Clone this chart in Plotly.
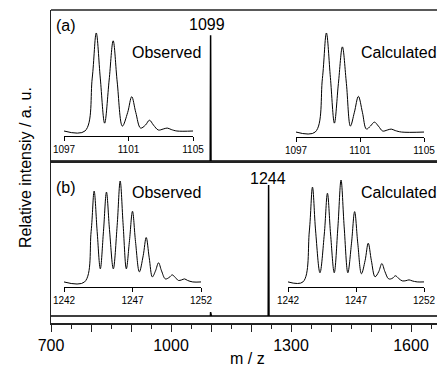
import plotly.graph_objects as go

# ---------------- data ----------------
# main spectra (m/z vs relative intensity)
mz_a = [700, 1096, 1098.0, 1099.0, 1100.0, 1102, 1665]
int_a = [0, 0, 0, 1.0, 0, 0, 0]
mz_b = [700, 1097, 1098.5, 1099.0, 1099.5, 1101, 1241, 1243.0, 1244.0, 1245.0, 1247, 1665]
int_b = [0, 0, 0, 0.03, 0, 0, 0, 0, 1.0, 0, 0, 0]

# isotope pattern insets (a)
obs_a_x = [1097, 1098.3, 1098.75, 1099.0, 1099.25, 1099.52, 1099.8, 1100.05, 1100.3, 1100.62, 1100.95,
           1101.2, 1101.45, 1101.75, 1102.05, 1102.3, 1102.55, 1102.85, 1103.15, 1103.4, 1103.65, 1104.0, 1105]
obs_a_y = [0, 0, 0.54, 1.0, 0.54, 0.08, 0.52, 0.92, 0.5, 0.05, 0.19,
           0.35, 0.19, 0.03, 0.06, 0.11, 0.06, 0.01, 0.02, 0.03, 0.015, 0, 0]
calc_a_x = [1097, 1098.2, 1098.65, 1098.9, 1099.15, 1099.4, 1099.65, 1099.9, 1100.15, 1100.4, 1100.65,
            1100.9, 1101.15, 1101.4, 1101.65, 1101.9, 1102.15, 1102.42, 1102.7, 1102.95, 1103.2, 1103.6, 1105]
calc_a_y = [0, 0, 0.54, 1.0, 0.55, 0.09, 0.49, 0.86, 0.49, 0.06, 0.2,
            0.36, 0.2, 0.03, 0.06, 0.10, 0.06, 0.01, 0.02, 0.03, 0.015, 0, 0]
ticks_a = [1097, 1101, 1105]

# isotope pattern insets (b)
obs_b_x = [1242, 1243.5, 1243.98, 1244.2, 1244.42, 1244.65, 1244.88, 1245.1, 1245.32, 1245.6, 1245.88,
           1246.1, 1246.32, 1246.55, 1246.78, 1247.0, 1247.22, 1247.5, 1247.78, 1248.0, 1248.22, 1248.45,
           1248.68, 1248.9, 1249.12, 1249.4, 1249.68, 1249.9, 1250.12, 1250.35, 1250.58, 1250.8, 1251.02,
           1251.4, 1252]
obs_b_y = [0, 0, 0.5, 0.90, 0.5, 0.13, 0.5, 0.89, 0.52, 0.13, 0.56,
           1.0, 0.56, 0.13, 0.41, 0.70, 0.4, 0.10, 0.26, 0.44, 0.24, 0.05,
           0.11, 0.19, 0.11, 0.03, 0.045, 0.07, 0.045, 0.015, 0.02, 0.03, 0.015,
           0, 0]
calc_b_x = [1242, 1243.1, 1243.57, 1243.8, 1244.03, 1244.35, 1244.67, 1244.9, 1245.13, 1245.4, 1245.67,
            1245.9, 1246.13, 1246.4, 1246.67, 1246.9, 1247.13, 1247.4, 1247.67, 1247.9, 1248.13, 1248.4,
            1248.67, 1248.9, 1249.13, 1249.4, 1249.67, 1249.9, 1250.13, 1250.4, 1250.67, 1250.9, 1251.13,
            1251.5, 1252]
calc_b_y = [0, 0, 0.5, 0.93, 0.5, 0.09, 0.47, 0.87, 0.47, 0.09, 0.54,
            1.0, 0.54, 0.09, 0.38, 0.69, 0.38, 0.08, 0.21, 0.38, 0.21, 0.05,
            0.1, 0.18, 0.1, 0.03, 0.035, 0.06, 0.035, 0.01, 0.012, 0.02, 0.01,
            0, 0]
ticks_b = [1242, 1247, 1252]

main_tickvals = [700, 800, 900, 1000, 1100, 1200, 1300, 1400, 1500, 1600]
main_ticktext = ["700", "", "", "1000", "", "", "1300", "", "", "1600"]

# ---------------- figure ----------------
FONT = "Liberation Sans, Arial, sans-serif"
fig = go.Figure()

line_main = dict(color="black", width=1.5)
line_inset = dict(color="black", width=1, shape="spline", smoothing=1.0)

fig.add_trace(go.Scatter(x=mz_b, y=int_b, mode="lines", line=line_main, xaxis="x", yaxis="y"))
fig.add_trace(go.Scatter(x=mz_a, y=int_a, mode="lines", line=line_main, xaxis="x2", yaxis="y2"))
fig.add_trace(go.Scatter(x=obs_a_x, y=obs_a_y, mode="lines", line=line_inset, xaxis="x3", yaxis="y3"))
fig.add_trace(go.Scatter(x=calc_a_x, y=calc_a_y, mode="lines", line=line_inset, xaxis="x4", yaxis="y4"))
fig.add_trace(go.Scatter(x=obs_b_x, y=obs_b_y, mode="lines", line=line_inset, xaxis="x5", yaxis="y5"))
fig.add_trace(go.Scatter(x=calc_b_x, y=calc_b_y, mode="lines", line=line_inset, xaxis="x6", yaxis="y6"))

W, H = 437, 370
L, R, T, B = 51, 0, 10, 47
pw, ph = W - L - R, H - T - B
X0, X1 = 700, 1665
YA = [0, 1.2]                 # panel (a) y range
YB = [-7 / 131, 155 / 131]    # panel (b) y range
SPLIT_PX = 161


def px_x(p):
    return (p - L) / pw


def px_y(p):
    return (H - B - p) / ph


def dx(p):  # pixel -> main x data
    return X0 + (p - L) / pw * (X1 - X0)


def dya(p):  # pixel -> panel (a) y data
    return YA[0] + (SPLIT_PX - p) / (SPLIT_PX - T) * (YA[1] - YA[0])


def dyb(p):  # pixel -> panel (b) y data
    return YB[0] + (H - B - p) / (H - B - SPLIT_PX) * (YB[1] - YB[0])


split = px_y(SPLIT_PX)
axis_col = "#222"

inset_x_common = dict(showline=True, linecolor="black", linewidth=1, ticks="outside", ticklen=4,
                      tickwidth=1, tickcolor="black", showgrid=False, zeroline=False, automargin=False,
                      tickfont=dict(size=10, family=FONT, color="black"))
inset_y_common = dict(visible=False, showgrid=False, zeroline=False, automargin=False)

fig.update_layout(
    width=W, height=H,
    margin=dict(l=L, r=R, t=T, b=B, autoexpand=False),
    plot_bgcolor="white", paper_bgcolor="white",
    showlegend=False,
    hovermode=False,
    font=dict(family=FONT, color="black"),
    xaxis=dict(domain=[0, 1], range=[X0, X1], anchor="y", automargin=False,
               showline=True, linecolor=axis_col, linewidth=1.5,
               ticks="outside", ticklen=7, tickwidth=1, tickcolor=axis_col,
               tickvals=main_tickvals, ticktext=main_ticktext,
               minor=dict(dtick=50, tick0=700, ticks="outside", ticklen=4, tickcolor=axis_col),
               tickfont=dict(size=16, family=FONT, color="black"),
               showgrid=False, zeroline=False),
    yaxis=dict(domain=[0, split], range=YB, showline=True, linecolor=axis_col, automargin=False,
               linewidth=1.5, showticklabels=False, ticks="", showgrid=False, zeroline=False),
    xaxis2=dict(domain=[0, 1], range=[X0, X1], anchor="y2", matches="x", automargin=False,
                showline=True, linecolor=axis_col, linewidth=1.5, showticklabels=False,
                ticks="", showgrid=False, zeroline=False),
    yaxis2=dict(domain=[split, 1], range=YA, showline=True, linecolor=axis_col, automargin=False,
                linewidth=1.5, showticklabels=False, ticks="", showgrid=False, zeroline=False),
    xaxis3=dict(domain=[px_x(64), px_x(193)], range=[1097, 1105], anchor="y3", tickvals=ticks_a, **inset_x_common),
    yaxis3=dict(domain=[px_y(136), px_y(32)], range=[-0.051, 1.01], anchor="x3", **inset_y_common),
    xaxis4=dict(domain=[px_x(296), px_x(424)], range=[1097, 1105], anchor="y4", tickvals=ticks_a, **inset_x_common),
    yaxis4=dict(domain=[px_y(137), px_y(32)], range=[-0.05, 1.01], anchor="x4", **inset_y_common),
    xaxis5=dict(domain=[px_x(64), px_x(201)], range=[1242, 1252], anchor="y5", tickvals=ticks_b, **inset_x_common),
    yaxis5=dict(domain=[px_y(287), px_y(180)], range=[-0.05, 1.01], anchor="x5", **inset_y_common),
    xaxis6=dict(domain=[px_x(288), px_x(424)], range=[1242, 1252], anchor="y6", tickvals=ticks_b, **inset_x_common),
    yaxis6=dict(domain=[px_y(287), px_y(179)], range=[-0.05, 1.01], anchor="x6", **inset_y_common),
)

# top frame line
fig.add_shape(type="line", xref="paper", yref="paper", x0=0, x1=1, y0=1, y1=1,
              line=dict(color=axis_col, width=1.5))

ann = []


def txt(text, x, y, size, xanchor="center", xref="x2", yref="y2", **kw):
    ann.append(dict(text=text, x=x, y=y, xref=xref, yref=yref, showarrow=False,
                    xanchor=xanchor, yanchor="middle", font=dict(size=size, family=FONT, color="black"), **kw))


# panel (a) labels (data coords of panel a)
txt("(a)", dx(66), dya(25), 16)
txt("Observed", dx(166), dya(52), 16)
txt("Calculated", dx(359), dya(52), 16, xanchor="left")
txt("1099", dx(207), dya(24), 16)
# panel (b) labels (data coords of panel b)
txt("(b)", dx(66), dyb(187), 16, xref="x", yref="y")
txt("Observed", dx(166), dyb(192), 16, xref="x", yref="y")
txt("Calculated", dx(359), dyb(192), 16, xanchor="left", xref="x", yref="y")
txt("1244", dx(268), dyb(178), 16, xref="x", yref="y")
# axis titles (inside margins)
txt("m / z", px_x(247), px_y(358), 16, xref="paper", yref="paper")
txt("Relative intensiy / a. u.", px_x(25), px_y(168), 16, xref="paper", yref="paper", textangle=-90)

fig.update_layout(annotations=ann)

fig.write_html("out.html", config={"displayModeBar": False, "staticPlot": True},
               post_script="document.body.style.margin='0';document.body.style.overflow='hidden';")
